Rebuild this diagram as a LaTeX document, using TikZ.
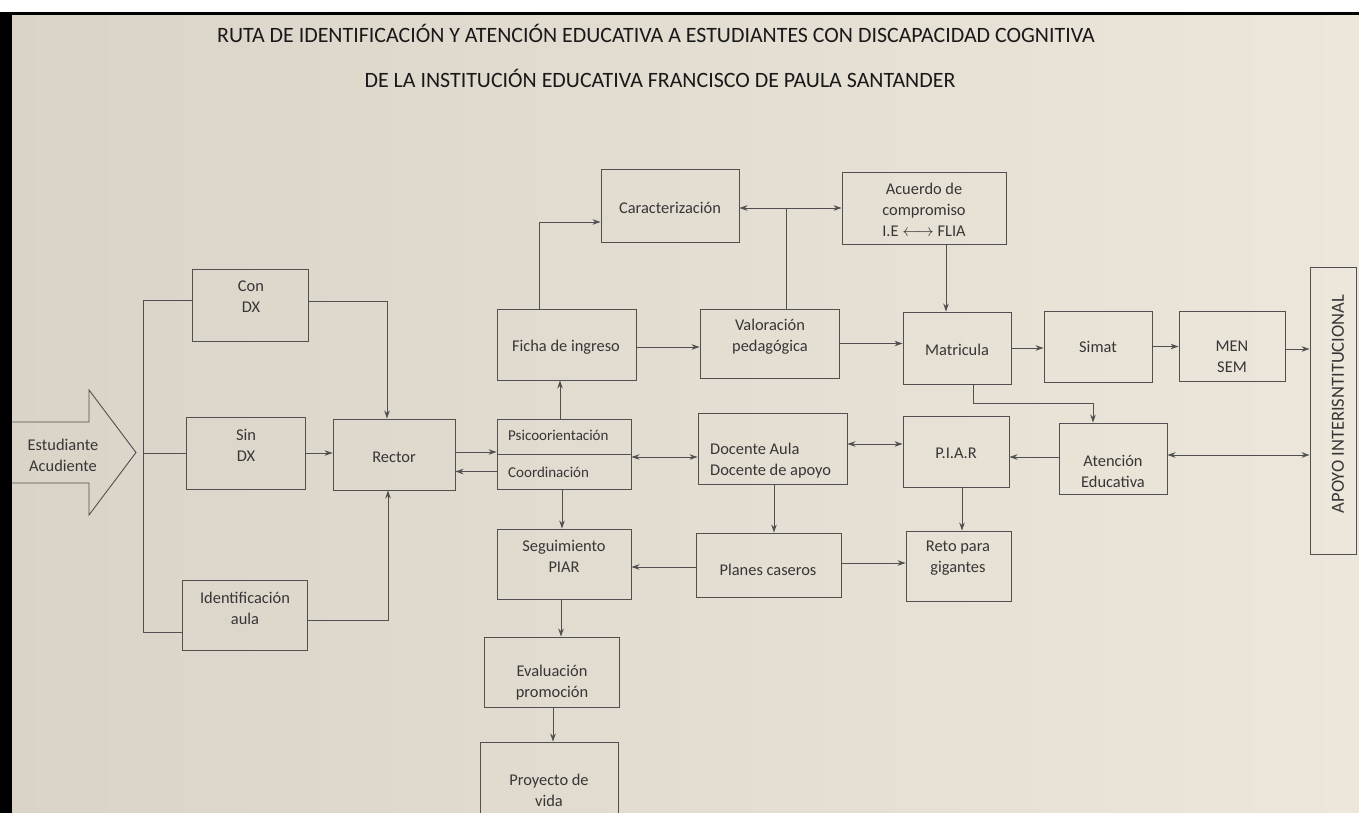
\documentclass[tikz,border=0pt]{standalone}
\usepackage{fontspec}
\setmainfont{Carlito}
\usepackage{tikz}
\usetikzlibrary{arrows.meta}
\definecolor{paperL}{HTML}{DAD3C7}
\definecolor{paperR}{HTML}{EDE6DA}
\definecolor{linegray}{HTML}{505050}
\definecolor{inkgray}{HTML}{363636}

\begin{document}
\begin{tikzpicture}[x=1pt,y=-1pt,
  box/.style={draw=linegray, line width=0.9pt, inner sep=0pt},
  txt/.style={text=inkgray, font=\fontsize{16.4}{21}\selectfont, align=center, inner sep=0pt},
  ln/.style={draw=linegray, line width=0.9pt},
  arr/.style={ln, -{Stealth[length=8pt,width=5.5pt]}},
  arr2/.style={ln, {Stealth[length=8pt,width=5.5pt]}-{Stealth[length=8pt,width=5.5pt]}}]
\useasboundingbox (0,0) rectangle (1359,813);
\clip (0,0) rectangle (1359,813);
\shade[left color=paperL, right color=paperR] (0,12) rectangle (1359,813);
\fill[white] (0,0) rectangle (1359,12);
\fill[black] (0,12) rectangle (1359,15);
\fill[black] (0,12) rectangle (12,813);
%
\node[text=black!90, font=\fontsize{21.9}{26}\selectfont] (tit1) at (656,33) {RUTA DE IDENTIFICACIÓN Y ATENCIÓN EDUCATIVA A ESTUDIANTES CON DISCAPACIDAD COGNITIVA};
\node[text=black!90, font=\fontsize{21.9}{26}\selectfont] (tit2) at (660,78) {DE LA INSTITUCIÓN EDUCATIVA FRANCISCO DE PAULA SANTANDER};
%
\draw[ln] (12,422) -- (89,422) -- (89,390) -- (136,452.5) -- (89,515) -- (89,483) -- (12,483);
\node[txt] (est) at (63,455) {Estudiante\\Acudiente};
%
\node[box, minimum width=116, minimum height=72] (con) at (250,305) {};
\node[box, minimum width=119, minimum height=72] (sin) at (245.5,453) {};
\node[box, minimum width=125, minimum height=70] (ident) at (244.5,615) {};
\node[box, minimum width=122, minimum height=71] (rector) at (394,454.5) {};
\node[txt] (conT) at (251,297) {Con\\DX};
\node[txt] (sinT) at (246,445) {Sin\\DX};
\node[txt] (identT) at (245,608) {Identificación\\aula};
\node[txt] (rectorT) at (394,457) {Rector};
%
\node[box, minimum width=134, minimum height=70] (psico) at (564,454) {};
\node[box, minimum width=139, minimum height=71] (ficha) at (566.5,344.5) {};
\node[box, minimum width=138, minimum height=73] (carac) at (670,205.5) {};
\node[box, minimum width=164, minimum height=72] (acuerdo) at (924,208) {};
\node[box, minimum width=139, minimum height=69] (valor) at (769.5,343.5) {};
\node[box, minimum width=108, minimum height=72] (matri) at (957,348) {};
\node[box, minimum width=108, minimum height=71] (simat) at (1098,346.5) {};
\node[box, minimum width=106, minimum height=70] (men) at (1232,346) {};
\node[box, minimum width=46, minimum height=287] (apoyo) at (1333,410.5) {};
\draw[ln] (psico.west) -- (psico.east);
\node[txt, anchor=west, font=\fontsize{15}{19}\selectfont] (psiT) at (508,435) {Psicoorientación};
\node[txt, anchor=west, font=\fontsize{15}{19}\selectfont] (cooT) at (508,472) {Coordinación};
\node[txt] (fichaT) at (566,347) {Ficha de ingreso};
\node[txt] (caracT) at (670,208) {Caracterización};
\node[txt] (acuerdoT) at (924,210) {Acuerdo de\\compromiso\\I.E $\longleftrightarrow$ FLIA};
\node[txt] (valorT) at (770,337) {Valoración\\pedagógica};
\node[txt] (matriT) at (957,350) {Matricula};
\node[txt] (simatT) at (1098,347) {Simat};
\node[txt] (menT) at (1232,357) {MEN\\SEM};
\node[txt, rotate=90, font=\fontsize{18.5}{22}\selectfont] (apoyoT) at (1338,404) {APOYO INTERISNTITUCIONAL};
%
\node[box, minimum width=149, minimum height=71] (docente) at (772.5,448.5) {};
\node[box, minimum width=106, minimum height=71] (piar) at (956,451.5) {};
\node[box, minimum width=108, minimum height=71] (atenc) at (1113,458.5) {};
\node[box, minimum width=134, minimum height=70] (segui) at (564,564) {};
\node[box, minimum width=145, minimum height=64] (planes) at (768.5,565) {};
\node[box, minimum width=105, minimum height=70] (reto) at (958.5,566) {};
\node[box, minimum width=135, minimum height=70] (eval) at (551.5,672) {};
\node[box, minimum width=138, minimum height=72] (proy) at (549,778) {};
\node[txt, anchor=west, align=left] (docT) at (710,461) {Docente Aula\\Docente de apoyo};
\node[txt] (piarT) at (956,453) {P.I.A.R};
\node[txt] (atencT) at (1113,471) {Atención\\Educativa};
\node[txt] (seguiT) at (564,556) {Seguimiento\\PIAR};
\node[txt] (planesT) at (768,570) {Planes caseros};
\node[txt] (retoT) at (958,558) {Reto para\\gigantes};
\node[txt] (evalT) at (552,683) {Evaluación\\promoción};
\node[txt] (proyT) at (549,790) {Proyecto de\\vida};
%
\coordinate (bt) at (143,300);
\coordinate (bb) at (143,632);
\draw[ln] (bt) -- (bb);
\draw[ln] (bt) -- (bt -| con.west);
\draw[ln] (sin.west -| bt) -- (sin.west);
\draw[ln] (bb) -- (bb -| ident.west);
\draw[arr] ([yshift=4]con.east) -| ([xshift=-7]rector.north);
\draw[arr] (sin.east) -- (sin.east -| rector.west);
\draw[arr] ([yshift=-5]ident.east) -| ([xshift=-6]rector.south);
\draw[arr] ([yshift=2.5]rector.east) -- ([yshift=2.5]rector.east -| psico.west);
\draw[arr] ([yshift=-17.5]psico.west) -- ([yshift=-17.5]psico.west -| rector.east);
%
\draw[arr] ([xshift=-4]psico.north) -- ([xshift=-4]psico.north |- ficha.south);
\draw[arr] ([xshift=-27.5]ficha.north) |- ([yshift=-16.5]carac.west);
\draw[arr] ([yshift=-2.5]ficha.east) -- ([yshift=-2.5]ficha.east -| valor.west);
\draw[arr2] ([yshift=-2.5]carac.east) coordinate (ca) -- (ca -| acuerdo.west);
\draw[ln] ([xshift=16.5]valor.north) -- ([xshift=16.5]valor.north |- ca);
\draw[arr] ([xshift=22]acuerdo.south) -- ([xshift=22]acuerdo.south |- matri.north);
\draw[arr] (valor.east) -- (valor.east -| matri.west);
\draw[arr] (matri.east) -- (matri.east -| simat.west);
\draw[arr] (simat.east) -- (simat.east -| men.west);
\draw[arr] ([yshift=-3]men.east) -- ([yshift=-3]men.east -| apoyo.west);
\draw[arr] ([xshift=16]matri.south) -- ++(0,19) -| ([xshift=-20]atenc.north);
%
\draw[arr2] ([yshift=-3]psico.east) -- ([yshift=-3]psico.east -| docente.west);
\draw[arr2] ([yshift=4.5]docente.east) -- ([yshift=4.5]docente.east -| piar.west);
\draw[arr] ([yshift=1.5]atenc.west) -- ([yshift=1.5]atenc.west -| piar.east);
\draw[arr2] ([yshift=3.5]atenc.east) -- ([yshift=3.5]atenc.east -| apoyo.west);
\draw[arr] ([xshift=-2]psico.south) -- ([xshift=-2]psico.south |- segui.north);
\draw[arr] ([xshift=1.5]docente.south) -- ([xshift=1.5]docente.south |- planes.north);
\draw[arr] ([xshift=6]piar.south) -- ([xshift=6]piar.south |- reto.north);
\draw[arr] ([yshift=-2]planes.west) -- ([yshift=-2]planes.west -| segui.east);
\draw[arr] ([yshift=2]planes.east) -- ([yshift=2]planes.east -| reto.west);
\draw[arr] ([xshift=-3]segui.south) -- ([xshift=-3]segui.south |- eval.north);
\draw[arr] ([xshift=1.5]eval.south) -- ([xshift=1.5]eval.south |- proy.north);
\end{tikzpicture}
\end{document}
